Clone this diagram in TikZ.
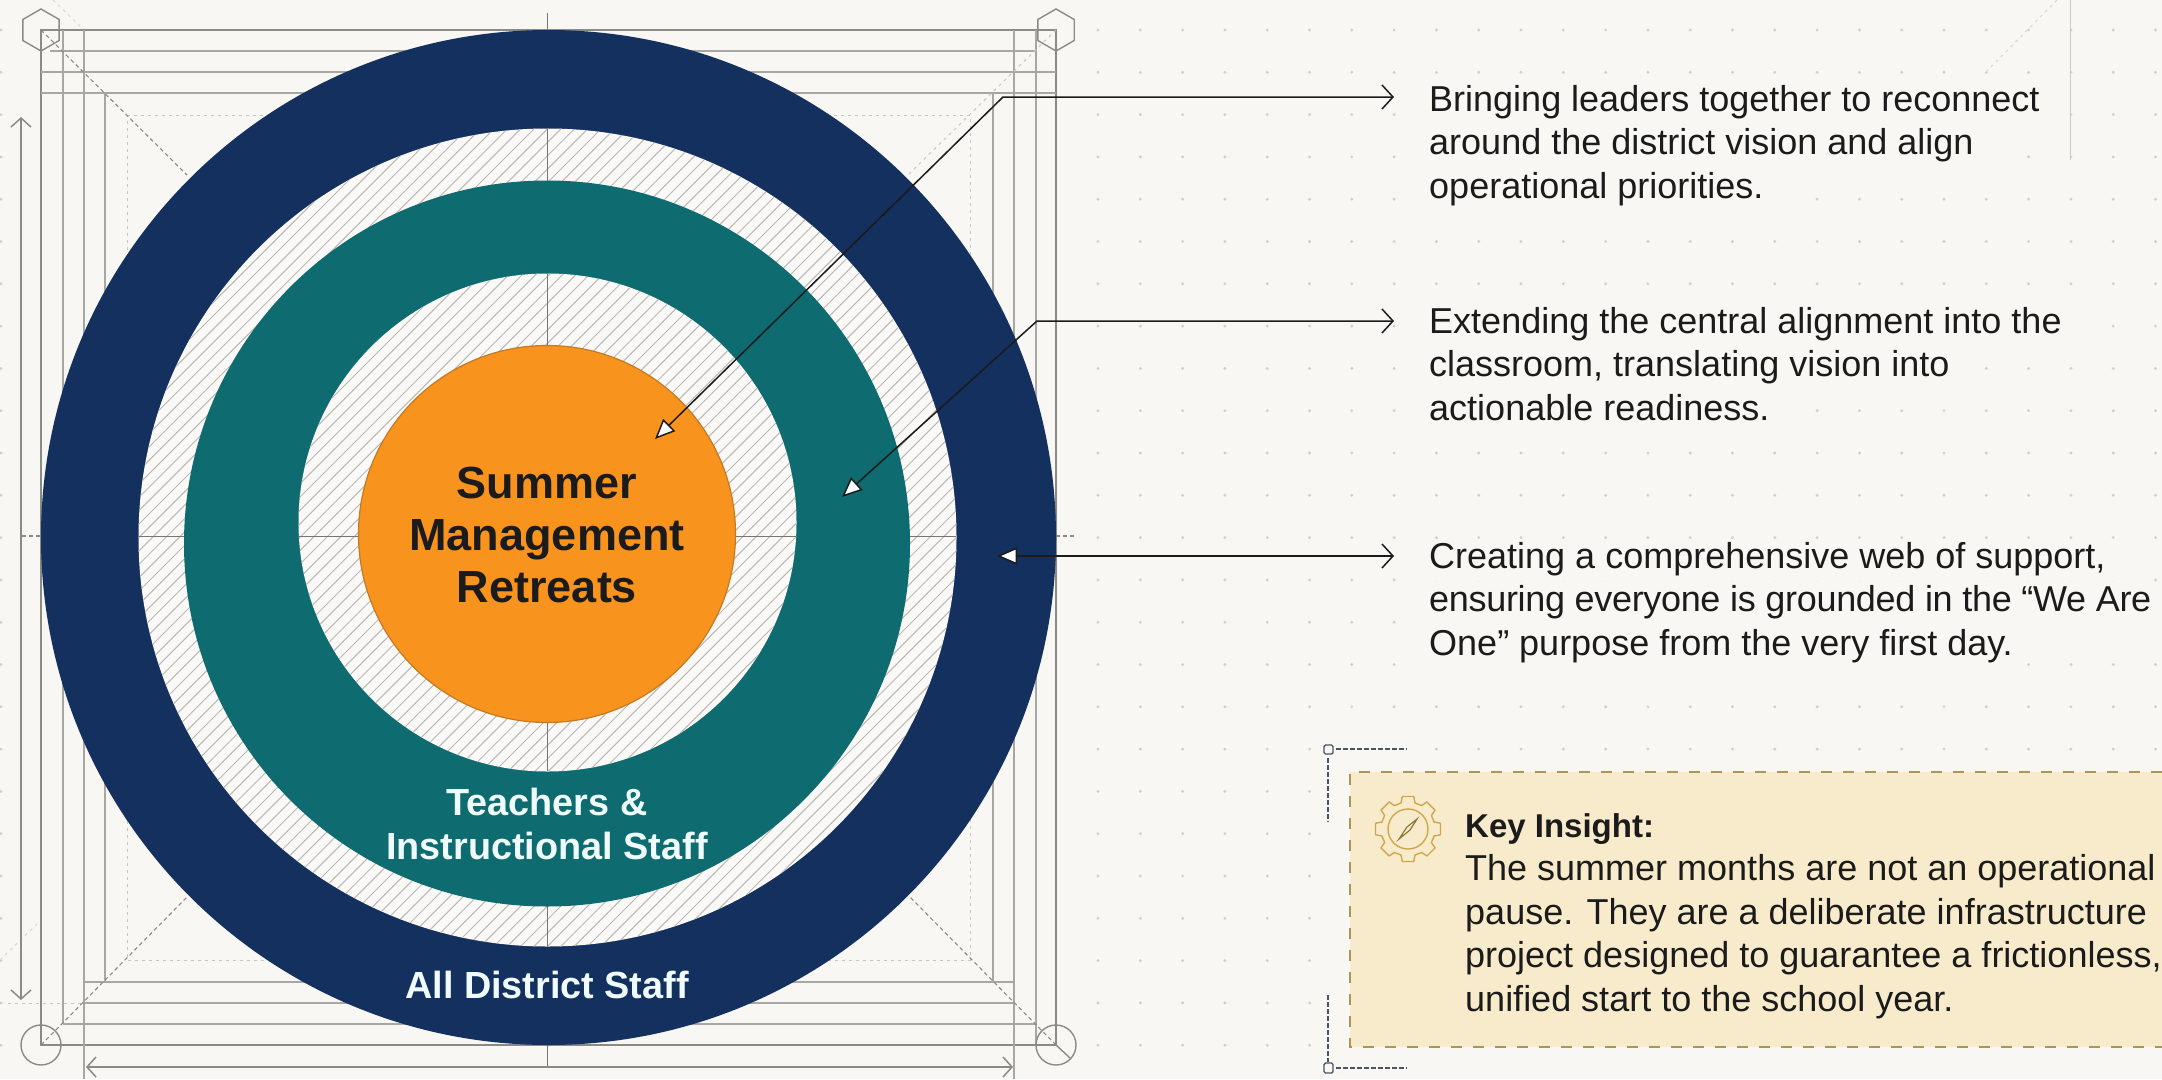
\documentclass[tikz,border=0pt]{standalone}
\usepackage{fontspec}
\setmainfont{Liberation Sans}
\usetikzlibrary{arrows.meta}
\definecolor{paper}{HTML}{F8F7F3}
\definecolor{navy}{HTML}{14305E}
\definecolor{tealc}{HTML}{0E6B70}
\definecolor{orangec}{HTML}{F8931D}
\definecolor{orangeb}{HTML}{C47A22}
\definecolor{boxfill}{HTML}{F7EBCB}
\definecolor{boxedge}{HTML}{A8965A}
\definecolor{ink}{HTML}{1B1B1B}
\definecolor{guide}{HTML}{8A8A86}
\definecolor{dotc}{HTML}{D0D0CA}
\definecolor{hatchc}{HTML}{B9B9B1}
\definecolor{gearc}{HTML}{CFA84E}
\definecolor{brk}{HTML}{4A5360}
\definecolor{labelw}{HTML}{F0FBFC}
\tikzset{
  ring/.style={circle,inner sep=0pt,draw=none},
  gthick/.style={draw=guide,line width=1.6pt},
  gmid/.style={draw=guide!75,line width=1.1pt},
  gdots/.style={draw=guide!50,line width=1pt,dash pattern=on 3pt off 4pt},
  gdash/.style={draw=guide,line width=1.1pt,dash pattern=on 4pt off 3pt},
  gfaint/.style={draw=guide!35,line width=1pt,dash pattern=on 3pt off 4pt},
  centre/.style={draw=guide!85!black,line width=1pt},
  dim/.style={draw=guide,line width=1.5pt,{Straight Barb[length=9pt,width=20pt]}-{Straight Barb[length=9pt,width=20pt]}},
  conn/.style={draw=ink,line width=1.5pt,{Triangle[length=20pt,width=17pt,fill=white,line width=1.5pt]}-{Straight Barb[length=11pt,width=24pt,line width=1.5pt]}},
  body/.style={anchor=north west,inner sep=0pt,align=left,text=ink,font=\fontsize{36}{43.5}\selectfont},
  mask/.style={fill=paper,draw=none},
  corner/.style={draw=guide,line width=1.4pt},
  hatchline/.style={draw=hatchc,line width=1pt},
  bracket/.style={draw=brk,line width=1.6pt,dash pattern=on 5pt off 2pt},
  bracketend/.style={draw=brk,line width=1.4pt,rounded corners=1.5pt},
  gearline/.style={draw=gearc,line width=1.4pt},
  ctitle/.style={anchor=base,inner sep=0pt,text=ink,font=\bfseries\fontsize{45}{52}\selectfont},
  rlabel/.style={anchor=base,inner sep=0pt,text=labelw,font=\bfseries\fontsize{37.8}{44}\selectfont},
}
\begin{document}
\begin{tikzpicture}[x=1pt,y=-1pt]
\useasboundingbox (0,0) rectangle (2162,1079);
\fill[paper] (0,0) rectangle (2162,1079);
% dot grid
\foreach \i in {0,...,25}{\foreach \j in {0,...,24}{
  \fill[dotc] ({1098+42.3*\i},{30+42.3*\j}) circle[radius=1.6pt];}}
\foreach \j in {0,...,24}{\fill[dotc] (1,{30+42.3*\j}) circle[radius=1.6pt];}
% dots hidden behind the text lines
\foreach \b/\e in {111/2052,154/1990,197/1780,333/2078,377/1968,419/1780,568/2116,612/2160,655/2018}{
  \fill[mask] (1412,\b-28) rectangle (\e,\b+13);}
% faint far guides
\draw[gfaint] (1986,72) -- (2057,0);
\draw[draw=guide!45,line width=1pt] (2070,0) -- (2070,160);
\draw[gfaint] (53,0) -- (82,28);
\draw[gfaint] (0,960) -- (38,923);
% construction lines
\draw[gthick] (41,30) rectangle (1056,1045);
\draw[gmid] (50,51) -- (1036,51);
\draw[gmid] (41,72) -- (1056,72);
\draw[gmid] (41,93) -- (1056,93);
\draw[gmid] (63,30) -- (63,1024);
\draw[gmid] (84,30) -- (84,1079);
\draw[gmid] (105,93) -- (105,982);
\draw[gmid] (63,1024) -- (1036,1024);
\draw[gmid] (84,1003) -- (1014,1003);
\draw[gdots] (8,1003) -- (84,1003);
\draw[gmid] (84,982) -- (1014,982);
\draw[gmid] (1036,30) -- (1036,1045);
\draw[gmid] (1014,30) -- (1014,1079);
\draw[gmid] (993,93) -- (993,982);
\draw[gdots] (127,115) -- (970,115) -- (970,960) -- (127,960) -- cycle;
\draw[gdash] (41,30) -- (187,175);
\draw[gdots] (1056,30) -- (908,175);
\draw[gdash] (41,1045) -- (187,897);
\draw[gdash] (1056,1045) -- (910,897);
\draw[corner] (1056,1045) -- (1070,1058);
% corner marks
\draw[corner] ([shift={(41,30)}]90:21pt) -- ([shift={(41,30)}]150:21pt) -- ([shift={(41,30)}]210:21pt) -- ([shift={(41,30)}]270:21pt) -- ([shift={(41,30)}]330:21pt) -- ([shift={(41,30)}]30:21pt) -- cycle;
\draw[corner] ([shift={(1056,30)}]90:21pt) -- ([shift={(1056,30)}]150:21pt) -- ([shift={(1056,30)}]210:21pt) -- ([shift={(1056,30)}]270:21pt) -- ([shift={(1056,30)}]330:21pt) -- ([shift={(1056,30)}]30:21pt) -- cycle;
\draw[corner] (41,1045) circle[radius=20pt];
\draw[corner] (1056,1045) circle[radius=20pt];
% centre lines outside the rings
\draw[centre] (547,13) -- (547,30);
\draw[centre] (547,1045) -- (547,1066);
\draw[gdash] (22,536) -- (41,536);
\draw[gdash] (1056,536) -- (1075,536);
% dimension arrows
\coordinate (dimT) at (21,117);
\coordinate (dimB) at (21,1000);
\coordinate (dimL) at (86,1067);
\coordinate (dimR) at (1013,1067);
\draw[dim] (dimT) -- (dimB);
\draw[dim] (dimL) -- (dimR);
% rings
\coordinate (cn) at (548.5,537.5);
\coordinate (ch) at (547.5,537.5);
\coordinate (ct) at (547,543.5);
\coordinate (ci) at (547.5,522.5);
\coordinate (co) at (547,534);
\node[ring,fill=navy,minimum size=1015pt] (rnavy) at (cn) {};
\fill[paper!70!white] (ch) circle[radius=409pt];
\begin{scope}
  \clip (ch) circle[radius=409pt];
  \foreach \k in {0,...,125}{\draw[hatchline] ({60+13.4*\k},0) -- (0,{60+13.4*\k});}
\end{scope}
\draw[centre] (547,128) -- (547,182);
\draw[centre] (547,905) -- (547,947);
\draw[centre] (139,536) -- (186,536);
\draw[centre] (908,536) -- (956,536);
\node[ring,fill=tealc,minimum size=726pt] (rteal) at (ct) {};
\fill[paper!70!white] (ci) circle[radius=249pt];
\begin{scope}
  \clip (ci) circle[radius=249pt];
  \foreach \k in {0,...,125}{\draw[hatchline] ({60+13.4*\k},0) -- (0,{60+13.4*\k});}
\end{scope}
\draw[centre] (547,274) -- (547,350);
\draw[centre] (547,720) -- (547,771);
\draw[centre] (298,536) -- (361,536);
\draw[centre] (733,536) -- (797,536);
\node[ring,fill=orangec,draw=orangeb,line width=1.2pt,minimum size=377pt] (rorange) at (co) {};
% ring labels
\node[ctitle] (lsm) at (547,498) {Summer};
\node[ctitle] (lmg) at (547,550) {Management};
\node[ctitle] (lrt) at (547,602) {Retreats};
\node[rlabel] (lte) at (547,815) {Teachers \&};
\node[rlabel] (lin) at (547,859) {Instructional Staff};
\node[rlabel] (lal) at (547,998) {All District Staff};
% descriptions
\node[body] (t1) at (1429,85) {Bringing leaders together to reconnect\\around the district vision and align\\operational priorities.};
\node[body] (t2) at (1429,307) {Extending the central alignment into the\\classroom, translating vision into\\actionable readiness.};
\node[body] (t3) at (1429,542) {Creating a comprehensive web of support,\\{\addfontfeature{LetterSpace=-0.9}ensuring everyone is grounded in the “We Are}\\One” purpose from the very first day.};
% connectors
\coordinate (a1) at (655,439);
\coordinate (k1) at (1003,97);
\coordinate (e1) at (1394,97);
\coordinate (a2) at (842,497);
\coordinate (k2) at (1037,321);
\coordinate (e2) at (1394,321);
\coordinate (a3) at (997,556);
\coordinate (e3) at (1394,556);
\draw[conn] (a1) -- (k1) -- (e1);
\draw[conn] (a2) -- (k2) -- (e2);
\draw[conn] (a3) -- (e3);
% insight box
\fill[boxfill] (1350,772) rectangle (2162,1047);
\draw[draw=boxedge,line width=1.5pt,dash pattern=on 11pt off 11pt] (2162,772) -- (1350,772) -- (1350,1047) -- (2162,1047);
\node[body] (t4) at (1465,813) {{\bfseries\fontsize{33}{43.5}\selectfont Key Insight:}\\The summer months are not an operational\\pause. They are a deliberate infrastructure\\project designed to guarantee a frictionless,\\unified start to the school year.};
% bracket
\draw[bracket] (1328,758) -- (1328,822);
\draw[bracket] (1328,995) -- (1328,1062);
\draw[bracket] (1336,749) -- (1407,749);
\draw[bracket] (1336,1068) -- (1407,1068);
\draw[bracketend] (1324,745) rectangle (1333,754);
\draw[bracketend] (1324,1063) rectangle (1333,1073);
% gear
\begin{scope}[shift={(1408,829)}]
  \draw[gearline,line join=round] (-15:27pt)
    \foreach \a in {0,45,...,315}{ -- (\a-15:27pt) -- (\a-10:33pt) -- (\a+10:33pt) -- (\a+15:27pt)} -- cycle;
  \draw[gearline] (0,0) circle[radius=20pt];
  \draw[gearline,line width=1.2pt,draw=gearc!70!black] (-9,10) -- (-1,-2) -- (9,-10) -- (2,1) -- cycle;
\end{scope}
\end{tikzpicture}
\end{document}
